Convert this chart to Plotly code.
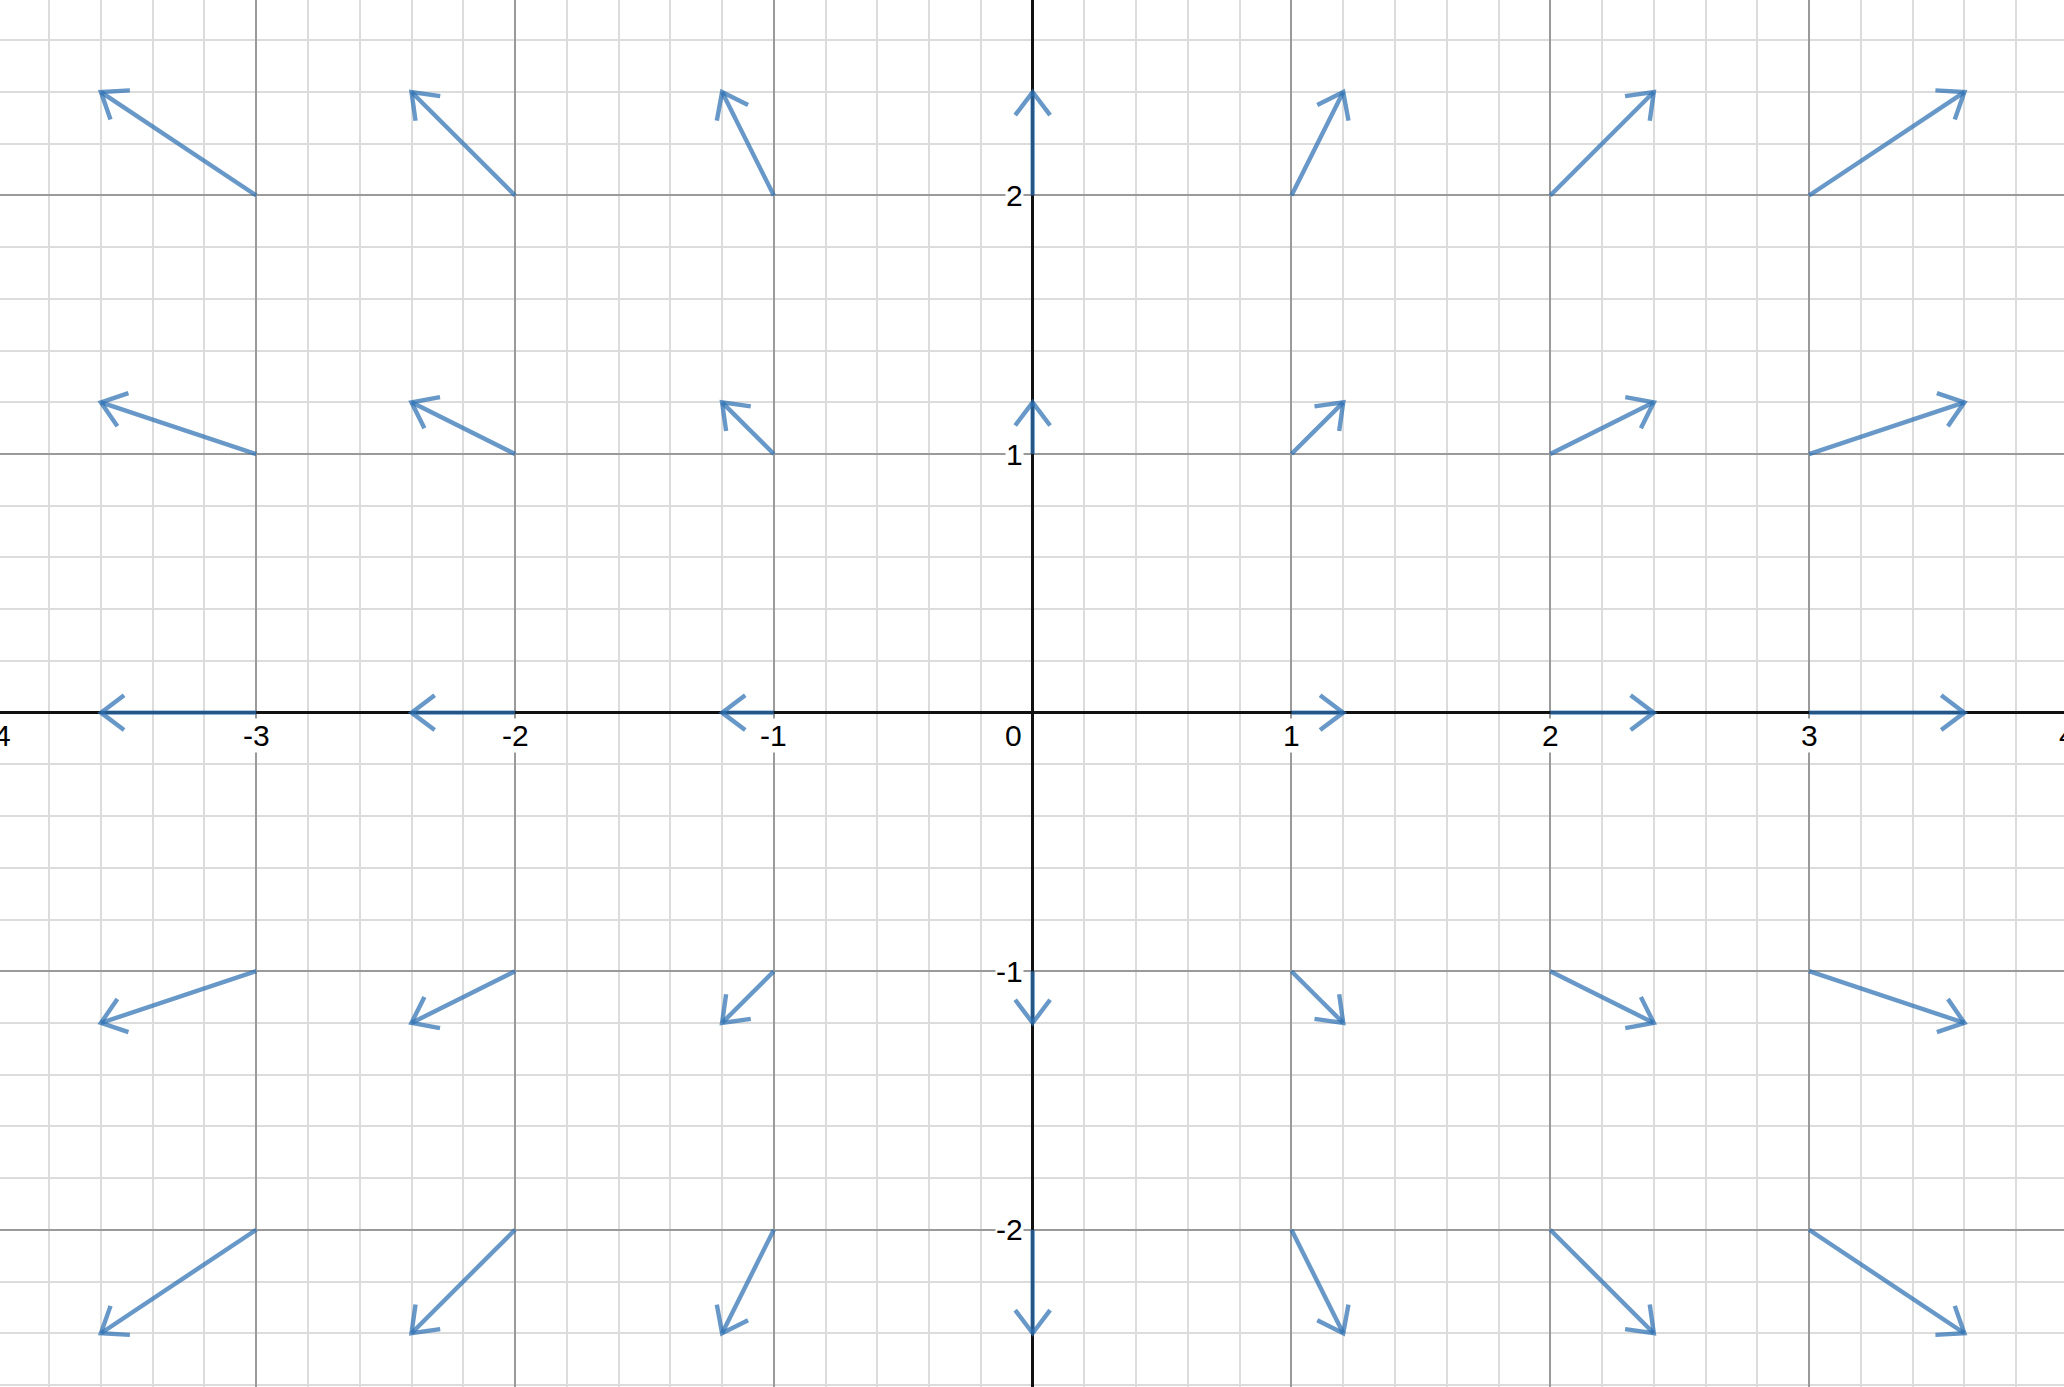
import math
import plotly.graph_objects as go

# ---- data ----
grid_x = [-4, -3, -2, -1, 0, 1, 2, 3, 4]          # arrow tails, x
grid_y = [-2, -1, 0, 1, 2]                         # arrow tails, y
u_at_x = [-0.8, -0.6, -0.4, -0.2, 0.0, 0.2, 0.4, 0.6, 0.8]   # horizontal component per column
v_at_y = [-0.4, -0.2, 0.0, 0.2, 0.4]                          # vertical component per row

x_tick_vals = [-4, -3, -2, -1, 1, 2, 3, 4]
x_tick_text = ["-4", "-3", "-2", "-1", "1", "2", "3", "4"]
y_tick_vals = [-2, -1, 1, 2]
y_tick_text = ["-2", "-1", "1", "2"]

# ---- style ----
W, H = 2064, 1387
X_RANGE = [-3.990, 3.985]
Y_RANGE = [-2.608, 2.756]
px_per_unit = W / (X_RANGE[1] - X_RANGE[0])
HEAD_LEN = 29 / px_per_unit
HEAD_ANG = math.radians(37)
ARROW_COLOR = "rgba(45,112,179,0.72)"

shaft_x, shaft_y, head_x, head_y = [], [], [], []
for i, x0 in enumerate(grid_x):
    for j, y0 in enumerate(grid_y):
        u, v = u_at_x[i], v_at_y[j]
        if u == 0 and v == 0:
            continue
        x1, y1 = x0 + u, y0 + v
        shaft_x += [x0, x1, None]
        shaft_y += [y0, y1, None]
        ang = math.atan2(v, u)
        bx1 = x1 - HEAD_LEN * math.cos(ang + HEAD_ANG)
        by1 = y1 - HEAD_LEN * math.sin(ang + HEAD_ANG)
        bx2 = x1 - HEAD_LEN * math.cos(ang - HEAD_ANG)
        by2 = y1 - HEAD_LEN * math.sin(ang - HEAD_ANG)
        head_x += [bx1, x1, bx2, None]
        head_y += [by1, y1, by2, None]

fig = go.Figure()
fig.add_trace(go.Scatter(x=shaft_x, y=shaft_y, mode="lines",
                         line=dict(color=ARROW_COLOR, width=4.4),
                         hoverinfo="skip", showlegend=False))
fig.add_trace(go.Scatter(x=head_x, y=head_y, mode="lines",
                         line=dict(color=ARROW_COLOR, width=4.4),
                         hoverinfo="skip", showlegend=False))

font = dict(family="Liberation Sans, Arial, sans-serif", size=30, color="#000000")


def x_label_ref(val):
    # labels whose tick lies just beyond the visible range are placed in paper
    # coordinates so Plotly does not hide them (they are clipped at the edge).
    if X_RANGE[0] <= val <= X_RANGE[1]:
        return dict(x=val, xref="x")
    return dict(x=(val - X_RANGE[0]) / (X_RANGE[1] - X_RANGE[0]), xref="paper")


annotations = []
for v, t in zip(x_tick_vals, x_tick_text):
    annotations.append(dict(**x_label_ref(v), y=0, yref="y", text=t, showarrow=False,
                            xanchor="center", yanchor="middle", yshift=-23,
                            bgcolor="white", borderpad=0, font=font))
for v, t in zip(y_tick_vals, y_tick_text):
    annotations.append(dict(x=0, y=v, xref="x", yref="y", text=t, showarrow=False,
                            xanchor="right", yanchor="middle", xshift=-9,
                            bgcolor="white", borderpad=0, font=font))
annotations.append(dict(x=0, y=0, xref="x", yref="y", text="0", showarrow=False,
                        xanchor="right", yanchor="middle", xshift=-10, yshift=-23,
                        bgcolor="white", borderpad=0, font=font))

axis_common = dict(
    showgrid=True, gridcolor="#9a9a9a", gridwidth=1.5, dtick=1,
    minor=dict(dtick=0.2, showgrid=True, gridcolor="#dcdcdc", gridwidth=1.5),
    zeroline=True, zerolinecolor="#111111", zerolinewidth=2.6,
    showticklabels=False, ticks="", showline=False, fixedrange=True,
)

fig.update_layout(
    width=W, height=H, autosize=False,
    margin=dict(l=0, r=0, t=0, b=0),
    paper_bgcolor="white", plot_bgcolor="white",
    xaxis=dict(range=X_RANGE, tick0=0, **axis_common),
    yaxis=dict(range=Y_RANGE, tick0=0, **axis_common),
    annotations=annotations,
    showlegend=False,
)

fig.write_html("out.html", config={"displayModeBar": False},
               post_script="document.body.style.margin='0';document.body.style.overflow='hidden';")
